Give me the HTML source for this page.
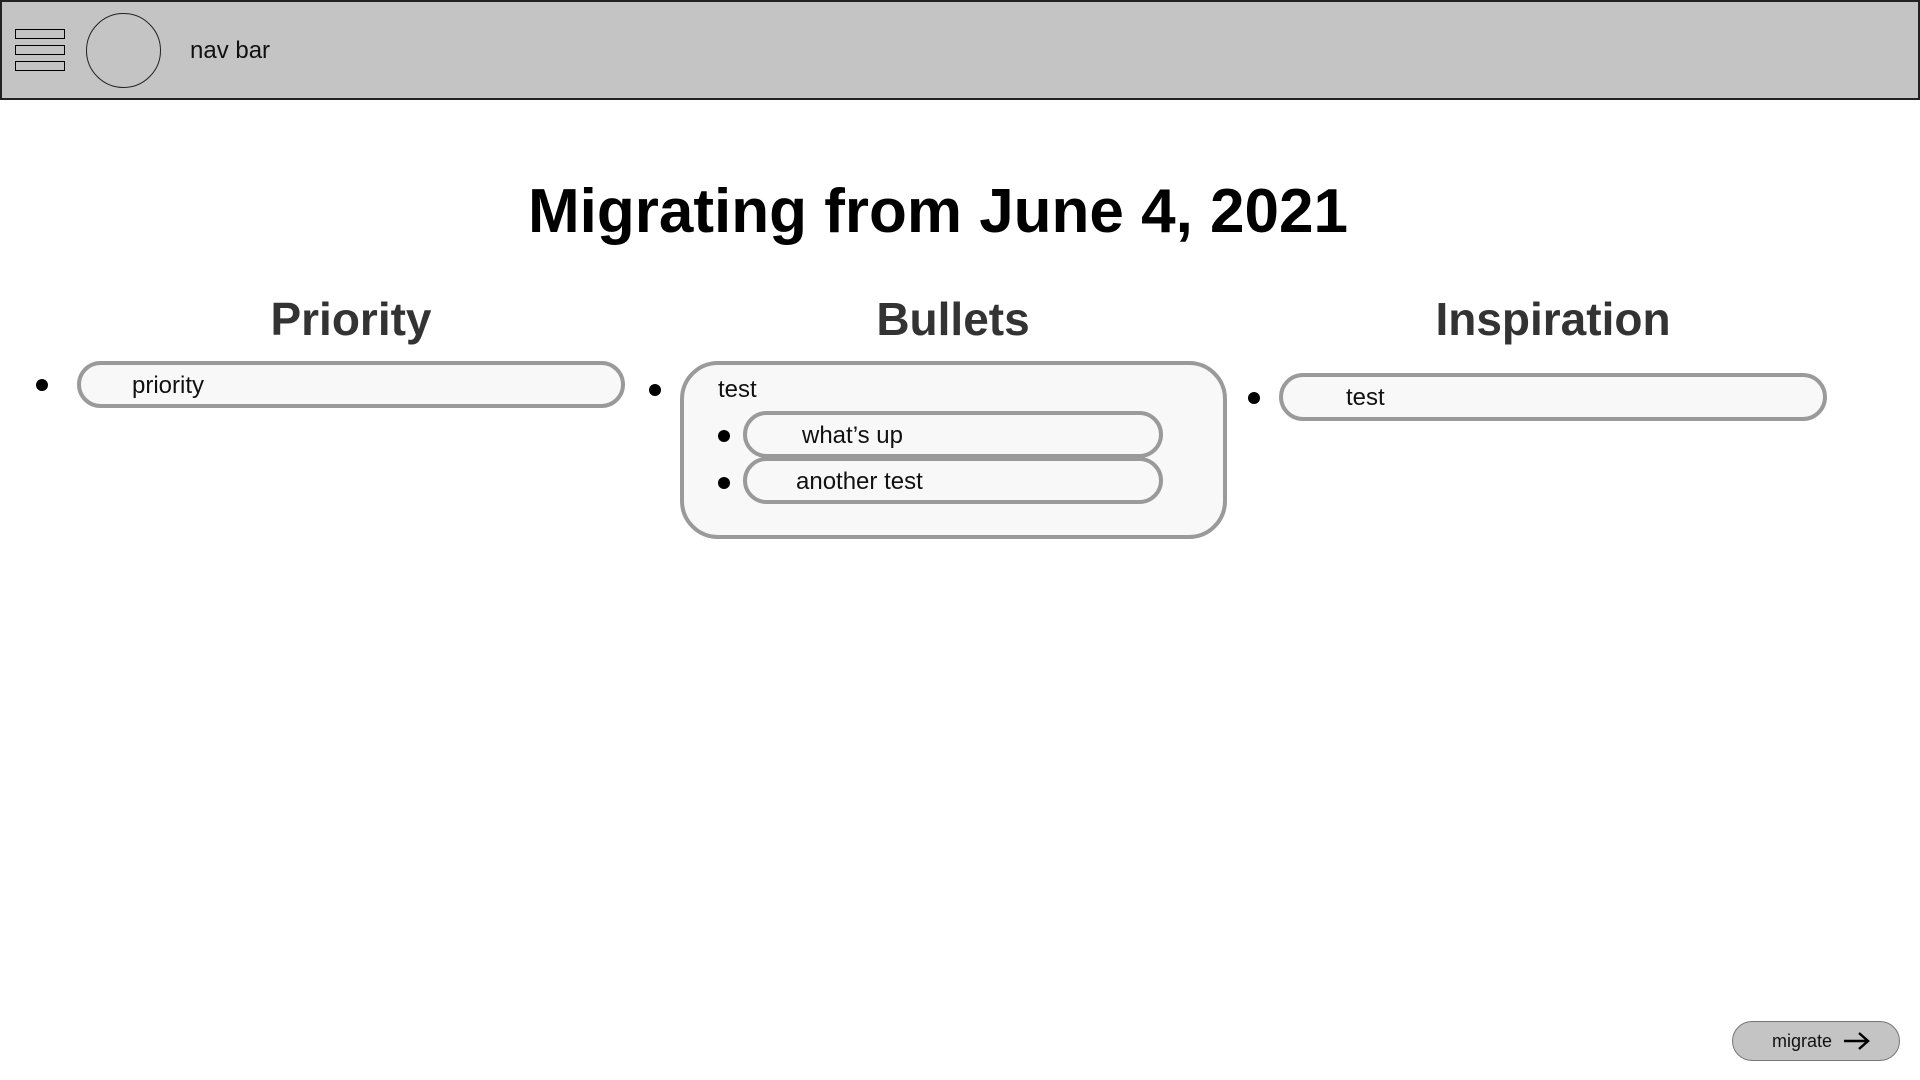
<!DOCTYPE html>
<html><head><meta charset="utf-8"><style>
body{margin:0;width:1920px;height:1080px;background:#fff;position:relative;overflow:hidden;font-family:"Liberation Sans",sans-serif;}
.a{position:absolute;box-sizing:border-box;}
.pill{border:4px solid #9a9a9a;background:#f8f8f8;border-radius:30px;}
.dot{width:12px;height:12px;border-radius:50%;background:#000;}
.t{font-size:24px;color:#111;white-space:nowrap;}
.h{font-size:46px;font-weight:bold;color:#333;text-align:center;width:600px;}
</style></head><body>
<div class="a" style="left:0;top:0;width:1920px;height:100px;background:#c4c4c4;border:2px solid #222;"></div>
<div class="a" style="left:15px;top:29px;width:50px;height:10px;border:1.5px solid #000;"></div>
<div class="a" style="left:15px;top:45px;width:50px;height:10px;border:1.5px solid #000;"></div>
<div class="a" style="left:15px;top:61px;width:50px;height:10px;border:1.5px solid #000;"></div>
<div class="a" style="left:86px;top:13px;width:75px;height:75px;border:1.5px solid #222;border-radius:50%;"></div>
<div class="a t" style="left:190px;top:37px;">nav bar</div>

<div class="a" style="left:0;width:1920px;top:176px;text-align:center;font-size:62px;font-weight:bold;color:#000;transform:translateX(-22px);">Migrating from June 4, 2021</div>

<div class="a h" style="left:51px;top:292px;">Priority</div>
<div class="a h" style="left:653px;top:292px;">Bullets</div>
<div class="a h" style="left:1253px;top:292px;">Inspiration</div>

<div class="a dot" style="left:36px;top:379px;"></div>
<div class="a pill" style="left:77px;top:361px;width:548px;height:47px;"></div>
<div class="a t" style="left:132px;top:372px;">priority</div>

<div class="a dot" style="left:649px;top:384px;"></div>
<div class="a pill" style="left:680px;top:361px;width:547px;height:178px;border-radius:38px;"></div>
<div class="a t" style="left:718px;top:376px;">test</div>
<div class="a dot" style="left:718px;top:430px;"></div>
<div class="a pill" style="left:743px;top:411px;width:420px;height:47px;"></div>
<div class="a t" style="left:802px;top:422px;">what’s up</div>
<div class="a dot" style="left:718px;top:477px;"></div>
<div class="a pill" style="left:743px;top:457px;width:420px;height:47px;"></div>
<div class="a t" style="left:796px;top:468px;">another test</div>

<div class="a dot" style="left:1248px;top:392px;"></div>
<div class="a pill" style="left:1279px;top:373px;width:548px;height:48px;"></div>
<div class="a t" style="left:1346px;top:384px;">test</div>

<div class="a" style="left:1732px;top:1021px;width:168px;height:40px;background:#c4c4c4;border:1.5px solid #777;border-radius:20px;"></div>
<div class="a" style="left:1772px;top:1031px;font-size:18px;color:#111;">migrate</div>
<svg class="a" style="left:1842px;top:1030px;" width="30" height="22"><path d="M2 11H26M17 3L26 11L17 19" fill="none" stroke="#000" stroke-width="2.5"/></svg>
</body></html>
